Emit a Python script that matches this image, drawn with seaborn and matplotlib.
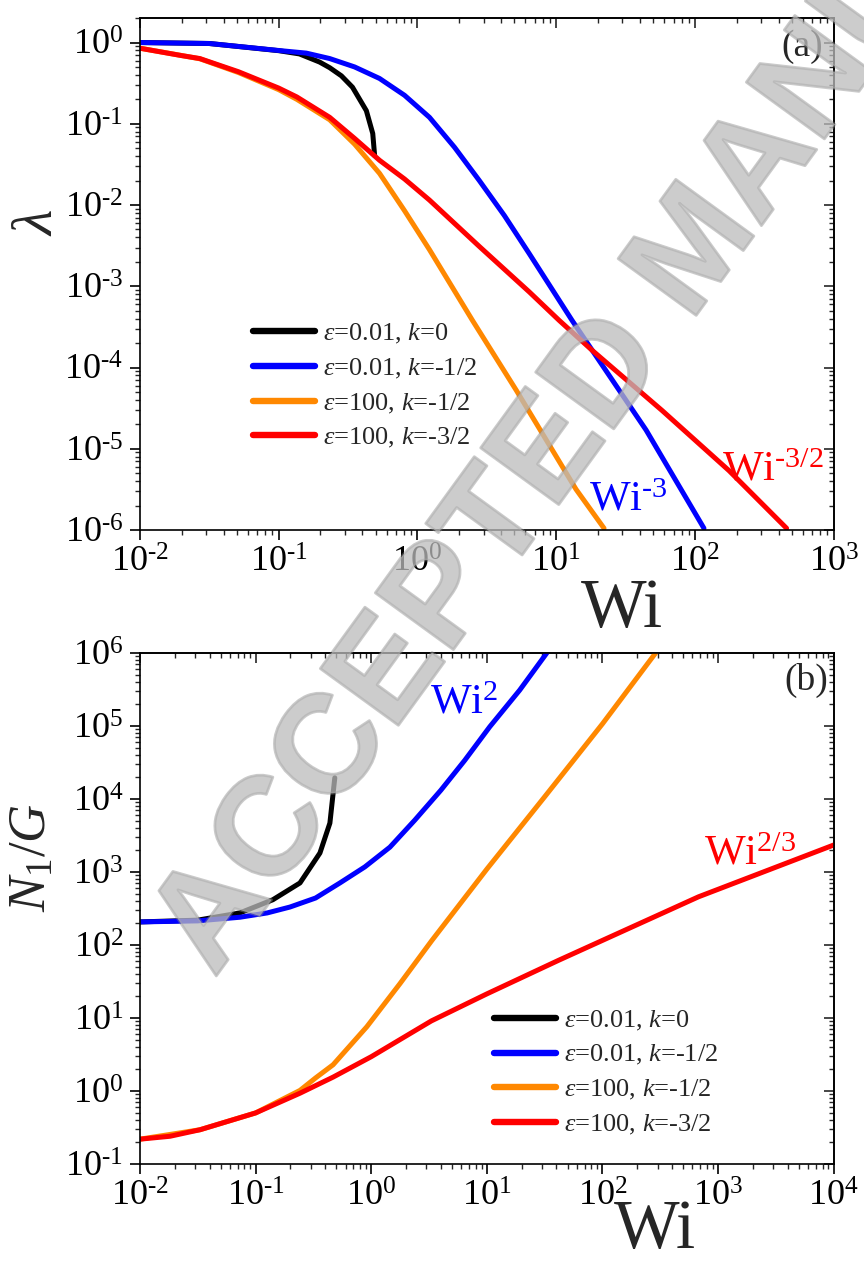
import numpy as np
import pandas as pd
import matplotlib
matplotlib.use('Agg')
import matplotlib.pyplot as plt
import matplotlib.patheffects as pe
import seaborn as sns
from matplotlib.ticker import FuncFormatter, LogLocator, NullFormatter
from matplotlib.lines import Line2D

sns.set_style('ticks')
plt.rcParams.update({
    'font.family': ['Liberation Serif', 'DejaVu Serif'],
    'mathtext.fontset': 'custom',
    'mathtext.rm': 'Liberation Serif',
    'mathtext.it': 'Liberation Serif:italic',
    'mathtext.bf': 'Liberation Serif:bold',
    'axes.unicode_minus': False,
    'axes.linewidth': 1.2,
    'axes.edgecolor': 'black',
})

HY = '\u2010'  # short hyphen used in exponents

# ---------------- data ----------------
series_labels = [r'$\varepsilon$=0.01, $k$=0', r'$\varepsilon$=0.01, $k$=-1/2',
                 r'$\varepsilon$=100, $k$=-1/2', r'$\varepsilon$=100, $k$=-3/2']
series_colors = ['#000000', '#0000ff', '#ff8800', '#ff0000']

# panel (a): lambda vs Wi
a_black_wi = [0.01, 0.0316, 0.1, 0.141, 0.197, 0.233, 0.283, 0.34, 0.428, 0.476, 0.491]
a_black_lam = [1.0, 0.973, 0.794, 0.724, 0.575, 0.49, 0.389, 0.282, 0.145, 0.0759, 0.0407]

a_blue_wi = [0.01, 0.0316, 0.1, 0.158, 0.233, 0.352, 0.533, 0.807, 1.22, 1.85, 2.79, 4.23,
             6.40, 13.0, 18.2, 44.4, 116]
a_blue_lam = [1.0, 0.973, 0.798, 0.741, 0.635, 0.501, 0.361, 0.224, 0.120, 0.0513, 0.0200,
              0.00741, 0.00251, 3.8e-4, 1.62e-4, 1.70e-5, 1.05e-6]

a_orange_wi = [0.01, 0.02, 0.027, 0.0513, 0.1, 0.135, 0.233, 0.352, 0.533, 0.807, 1.22, 2.49,
               5.15, 13.9, 22.1]
a_orange_lam = [0.851, 0.692, 0.631, 0.427, 0.263, 0.20, 0.112, 0.0562, 0.0245, 0.0085,
                0.00282, 3.8e-4, 5.25e-5, 3.16e-6, 1.05e-6]

a_red_wi = [0.01, 0.02, 0.027, 0.0513, 0.1, 0.135, 0.233, 0.352, 0.533, 0.807, 1.22, 2.79,
            6.40, 10.5, 18.2, 58.0, 176, 457]
a_red_lam = [0.851, 0.69, 0.635, 0.437, 0.275, 0.214, 0.120, 0.0661, 0.0355, 0.0209, 0.0115,
             0.00309, 8.5e-4, 3.8e-4, 1.62e-4, 2.95e-5, 5.37e-6, 1.05e-6]

# panel (b): N1/G vs Wi
b_black_wi = [0.01, 0.0316, 0.0731, 0.141, 0.242, 0.36, 0.439, 0.484]
b_black_n1 = [207, 219, 275, 417, 708, 1820, 4677, 19498]

b_blue_wi = [0.01, 0.0316, 0.0731, 0.126, 0.198, 0.33, 0.536, 0.881, 1.45, 2.38, 4.0, 6.44,
             10.6, 19.2, 33.0]
b_blue_n1 = [207, 214, 240, 275, 331, 440, 708, 1175, 2188, 5129, 13183, 33884, 97724,
             309030, 1e6]

b_orange_wi = [0.01, 0.0331, 0.1, 0.242, 0.33, 0.468, 0.916, 1.77, 3.34, 10, 31.6, 100, 288]
b_orange_n1 = [0.219, 0.295, 0.501, 1.02, 1.51, 2.29, 7.59, 29.5, 115, 1096, 10715, 107152, 1e6]

b_red_wi = [0.01, 0.0182, 0.0331, 0.1, 0.242, 0.468, 1.0, 3.31, 10, 41.7, 676, 1e4]
b_red_n1 = [0.219, 0.24, 0.295, 0.501, 0.933, 1.55, 2.95, 9.12, 21.4, 61.7, 457, 2344]

a_xlim = (1e-2, 1e3)
a_ylim = (1e-6, 2.0)
b_xlim = (1e-2, 1e4)
b_ylim = (1e-1, 1e6)


def make_df(xs, ys):
    frames = []
    for lab, x, y in zip(series_labels, xs, ys):
        frames.append(pd.DataFrame({'Wi': x, 'val': y, 'series': lab}))
    return pd.concat(frames, ignore_index=True)


df_a = make_df([a_black_wi, a_blue_wi, a_orange_wi, a_red_wi],
               [a_black_lam, a_blue_lam, a_orange_lam, a_red_lam])
df_b = make_df([b_black_wi, b_blue_wi, b_orange_wi, b_red_wi],
               [b_black_n1, b_blue_n1, b_orange_n1, b_red_n1])


def fmt(v, pos):
    n = int(round(np.log10(v)))
    s = str(n).replace('-', HY)
    return r'$\mathdefault{10^{%s}}$' % s


fig = plt.figure(figsize=(8.64, 12.64), dpi=100)
ax1 = fig.add_axes([0.162, 0.5807, 0.803, 0.405])
ax2 = fig.add_axes([0.162, 0.0791, 0.803, 0.4043])

for ax, df, xr, yr in [(ax1, df_a, a_xlim, a_ylim), (ax2, df_b, b_xlim, b_ylim)]:
    ax.set_xscale('log')
    ax.set_yscale('log')
    sns.lineplot(data=df, x='Wi', y='val', hue='series', hue_order=series_labels,
                 palette=series_colors, estimator=None, sort=False, linewidth=3.6,
                 legend=False, ax=ax)
    ax.set_xlim(*xr)
    ax.set_ylim(*yr)
    ax.set_xlabel('')
    ax.set_ylabel('')
    for axis in (ax.xaxis, ax.yaxis):
        axis.set_major_locator(LogLocator(base=10, numticks=20))
        axis.set_minor_locator(LogLocator(base=10, subs=np.arange(2, 10), numticks=20))
        axis.set_major_formatter(FuncFormatter(fmt))
        axis.set_minor_formatter(NullFormatter())
    ax.tick_params(which='major', direction='out', length=7, width=1.2, labelsize=26,
                   pad=5, colors='black')
    ax.tick_params(which='minor', direction='out', length=3.5, width=1.0)
    for s in ax.spines.values():
        s.set_visible(True)
        s.set_linewidth(1.2)
        s.set_color('black')
    sx = ax.secondary_xaxis('top')
    sy = ax.secondary_yaxis('right')
    for sec, axis in ((sx, sx.xaxis), (sy, sy.yaxis)):
        axis.set_major_locator(LogLocator(base=10, numticks=20))
        axis.set_minor_locator(LogLocator(base=10, subs=np.arange(2, 10), numticks=20))
        axis.set_major_formatter(NullFormatter())
        axis.set_minor_formatter(NullFormatter())
        sec.tick_params(which='major', direction='in', length=7, width=1.2)
        sec.tick_params(which='minor', direction='in', length=3.5, width=1.0)

    handles = [Line2D([0], [0], color=c, lw=4.6, solid_capstyle='round') for c in series_colors]
    anchor = (0.163, 0.406) if ax is ax1 else (0.510, 0.304)
    ax.legend(handles, series_labels, loc='upper left', bbox_to_anchor=anchor, frameon=False,
              fontsize=19, handlelength=2.35, handletextpad=0.3, labelspacing=0.4,
              borderpad=0, borderaxespad=0)

ax1.set_xlabel('Wi', fontsize=50)
ax1.xaxis.set_label_coords(0.695, -0.189)
ax1.xaxis.label.set_va('baseline')
ax1.set_ylabel(r'$\lambda$', fontsize=42)
ax1.yaxis.set_label_coords(-0.147, 0.60)
ax1.yaxis.label.set_va('center')

ax2.set_xlabel('Wi', fontsize=50)
ax2.xaxis.set_label_coords(0.742, -0.164)
ax2.xaxis.label.set_va('baseline')
ax2.set_ylabel(r'$N_1/G$', fontsize=38)
ax2.yaxis.set_label_coords(-0.154, 0.60)
ax2.yaxis.label.set_va('center')

ax1.text(0.955, 0.945, '(a)', transform=ax1.transAxes, fontsize=27, ha='center', va='center')
ax2.text(0.96, 0.947, '(b)', transform=ax2.transAxes, fontsize=27, ha='center', va='center')
ax1.text(17.3, 1.75e-6, r'$\mathdefault{Wi^{%s3}}$' % HY, color='#0000ff', fontsize=31,
         ha='left', va='baseline')
ax1.text(156, 4.1e-6, r'$\mathdefault{Wi^{%s3/2}}$' % HY, color='#ff0000', fontsize=31,
         ha='left', va='baseline')
ax2.text(3.2, 1.5e5, r'$\mathdefault{Wi^{2}}$', color='#0000ff', fontsize=31,
         ha='left', va='baseline')
ax2.text(750, 1260, r'$\mathdefault{Wi^{2/3}}$', color='#ff0000', fontsize=31,
         ha='left', va='baseline')

# "ACCEPTED MANUSCRIPT" stamp across the figure
fig.text(0.808, 0.801, 'ACCEPTED MANUSCRIPT', rotation=54, rotation_mode='anchor',
         ha='center', va='center', fontsize=101, fontweight='bold',
         family=['Liberation Sans', 'DejaVu Sans'],
         color='#bcbcbc', alpha=0.55, zorder=100,
         path_effects=[pe.Stroke(linewidth=2.0, foreground='#8a8a8a', alpha=0.45), pe.Normal()])

fig.savefig('out.png', dpi=100)
